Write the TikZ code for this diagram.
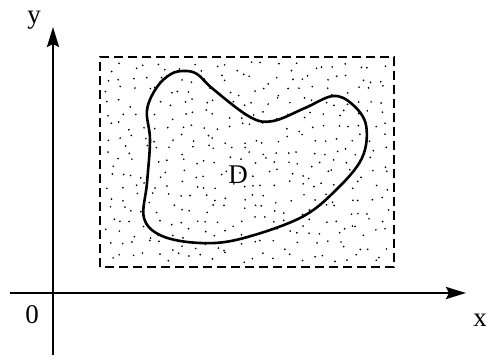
\documentclass[tikz,border=0pt]{standalone}
\usepackage{fontspec}
\setmainfont{Liberation Serif}
\usetikzlibrary{arrows.meta}
\begin{document}
\begin{tikzpicture}[x=1pt,y=-1pt,
  axis/.style={line width=2.4pt,-{Stealth[length=20pt,width=12pt,inset=3pt]}},
  lbl/.style={font=\fontsize{27}{30}\selectfont,inner sep=0pt},
  boxline/.style={line width=2.4pt,dash pattern=on 9pt off 5pt},
  blob/.style={line width=2.6pt}]
\useasboundingbox (0,0) rectangle (486,358);
% dots on a jittered grid
\pgfmathsetseed{11}
\foreach \c in {0,...,23}{
  \foreach \r in {0,...,16}{
    \pgfmathsetmacro{\px}{105+\c*11.9+10*rnd}
    \pgfmathsetmacro{\py}{62+\r*11.9+10*rnd}
    \fill (\px,\py) circle (0.95pt);
  }
}
\coordinate (bl) at (100,267);
\coordinate (tr) at (394,57);
\draw[boxline] (bl) rectangle (tr);
\draw[blob] plot[smooth cycle, tension=0.6] coordinates {
 (171,74) (184,71) (197,74) (213,89) (250,117) (273,121) (305,108) (333,96) (352,104)
 (366,125) (362,158) (335,191) (300,218) (240,239) (200,243) (162,236)
 (144,218) (147,183) (150,140) (147,110) (157,87)};
\coordinate (xs) at (10,293);
\coordinate (xe) at (466,293);
\coordinate (ys) at (53,355);
\coordinate (ye) at (53,27);
\draw[axis] (xs) -- (xe);
\draw[axis] (ys) -- (ye);
\node[lbl] (ylab) at (34,20) {y};
\node[lbl] (xlab) at (480,320) {x};
\node[lbl] (olab) at (32,315) {0};
\node[lbl] (dlab) at (238,175) {D};
\end{tikzpicture}
\end{document}
